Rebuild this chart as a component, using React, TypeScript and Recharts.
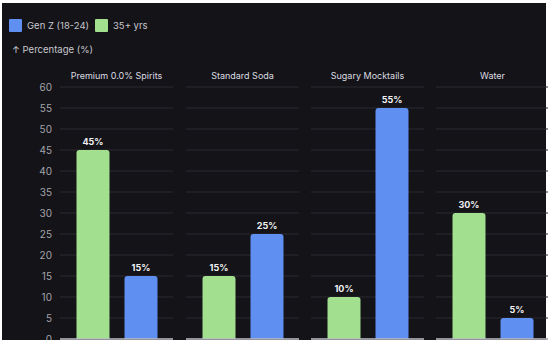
import React from "react";
import { BarChart, Bar, XAxis, YAxis, CartesianGrid, Cell, LabelList } from "recharts";

const categories = ["Premium 0.0% Spirits", "Standard Soda", "Sugary Mocktails", "Water"];
const groups = ["35+ yrs", "Gen Z (18-24)"];
const olderValues = [45, 15, 10, 30];
const genZValues = [15, 25, 55, 5];
const yTicks = [0, 5, 10, 15, 20, 25, 30, 35, 40, 45, 50, 55, 60];

const BLUE = "#5f8ff0";
const GREEN = "#a2df8e";
const BG = "#131318";
const FONT = "Inter, 'Noto Sans', sans-serif";

const groupColors = [GREEN, BLUE];

const panelLefts = [60, 186, 311, 436];
const PANEL_W = 113;
const PLOT_TOP = 87;
const PLOT_H = 252;
const X_H = 20;
const Y_W = 60;

function Panel({ index }: { index: number }) {
  const data = groups.map((g, i) => ({
    group: g,
    value: i === 0 ? olderValues[index] : genZValues[index],
  }));
  const withAxis = index === 0;
  const width = PANEL_W + (withAxis ? Y_W : 0);
  const left = panelLefts[index] - (withAxis ? Y_W : 0);
  return (
    <div style={{ position: "absolute", left, top: 0 }}>
      <BarChart
        width={width}
        height={PLOT_TOP + PLOT_H + X_H}
        data={data}
        margin={{ top: PLOT_TOP, right: 0, bottom: 0, left: 0 }}
      >
        <CartesianGrid stroke="#2a2a31" strokeWidth={1} syncWithTicks={true} />
        <XAxis
          dataKey="group"
          tick={false}
          tickLine={false}
          axisLine={{ stroke: "#bdbdc4", strokeWidth: 1.5 }}
          height={X_H}
          padding={{ left: 8.5, right: 8.5 }}
        />
        <YAxis
          type="number"
          domain={[0, 60]}
          ticks={yTicks}
          interval={0}
          hide={!withAxis}
          width={Y_W}
          axisLine={false}
          tickLine={false}
          tick={{ fill: "#a4a4ab", fontSize: 10, fontFamily: FONT }}
        />
        <Bar dataKey="value" barSize={33} radius={[3, 3, 0, 0]} isAnimationActive={false}>
          {data.map((d, i) => (
            <Cell key={d.group} fill={groupColors[i]} />
          ))}
          <LabelList
            dataKey="value"
            position="top"
            offset={5}
            formatter={(v: number) => `${v}%`}
            style={{ fill: "#f0f0f2", fontSize: 9, fontWeight: 700, fontFamily: FONT }}
          />
        </Bar>
      </BarChart>
    </div>
  );
}

export default function App() {
  return (
    <div
      style={{
        position: "absolute",
        left: 0,
        top: 0,
        width: 548,
        height: 340,
        overflow: "hidden",
        background: "#ffffff",
        fontFamily: FONT,
      }}
    >
      <div style={{ position: "absolute", left: 2, top: 3, width: 544, height: 337, background: BG }} />
      {/* legend */}
      <div style={{ position: "absolute", left: 9, top: 19, width: 13, height: 13, background: BLUE, borderRadius: 1 }} />
      <div style={{ position: "absolute", left: 27, top: 19, height: 13, lineHeight: "13px", fontSize: 9.5, color: "#c8c8ce" }}>
        {groups[1]}
      </div>
      <div style={{ position: "absolute", left: 95, top: 19, width: 13, height: 13, background: GREEN, borderRadius: 1 }} />
      <div style={{ position: "absolute", left: 113, top: 19, height: 13, lineHeight: "13px", fontSize: 9.5, color: "#c8c8ce" }}>
        {groups[0]}
      </div>
      <div style={{ position: "absolute", left: 12, top: 43, height: 14, lineHeight: "14px", fontSize: 9.5, color: "#c8c8ce" }}>
        ↑ Percentage (%)
      </div>
      {categories.map((c, i) => (
        <div
          key={c}
          style={{
            position: "absolute",
            left: panelLefts[i],
            width: PANEL_W,
            top: 69,
            height: 14,
            lineHeight: "14px",
            textAlign: "center",
            fontSize: 9,
            color: "#dcdce0",
            whiteSpace: "nowrap",
          }}
        >
          {c}
        </div>
      ))}
      {categories.map((c, i) => (
        <Panel key={c} index={i} />
      ))}
    </div>
  );
}
